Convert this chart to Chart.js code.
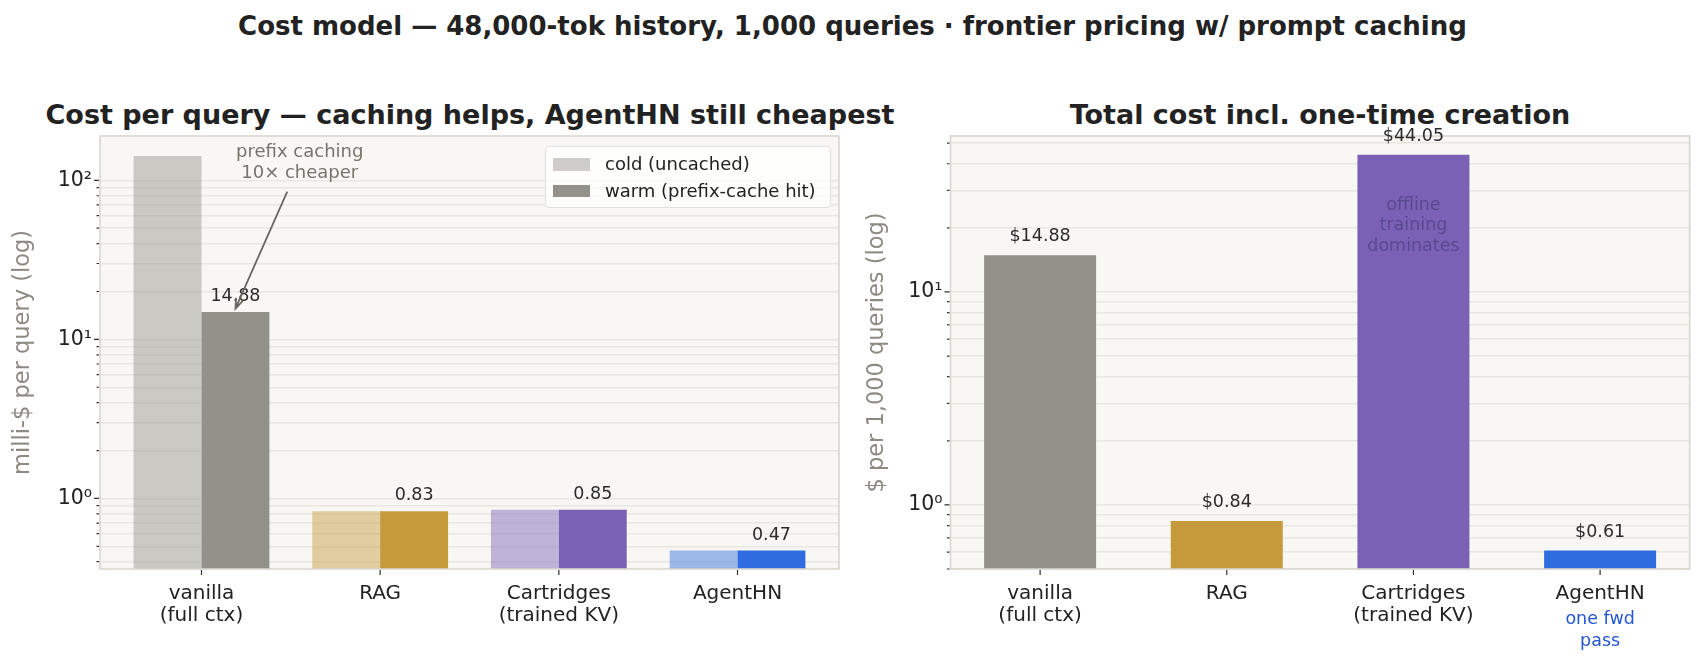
<!DOCTYPE html>
<html>
<head>
<meta charset="utf-8">
<title>Cost model</title>
<script src="https://cdn.jsdelivr.net/npm/chart.js@4/dist/chart.umd.min.js"></script>
<style>
  body { margin: 0; background: #fff; font-family: "DejaVu Sans", sans-serif; }
  #fig { position: relative; width: 1705px; height: 665px; overflow: hidden; }
  .suptitle { position: absolute; left: 0; top: 10px; width: 1705px; text-align: center;
              font-size: 26px; font-weight: bold; color: #222; line-height: 32px; white-space: nowrap; }
  .ptitle { position: absolute; top: 98px; width: 1200px; text-align: center;
            font-size: 27px; font-weight: bold; color: #222; line-height: 34px; white-space: nowrap; }
  .panel { position: absolute; top: 0; height: 665px; }
  .legend { position: absolute; left: 545px; top: 146px; width: 284px; height: 60px;
            background: rgba(255,255,255,0.8); border: 1px solid #e2e0da; border-radius: 4px;
            font-size: 18px; color: #222; }
  .legend .row { position: absolute; left: 0; height: 26px; }
  .legend .sw { position: absolute; left: 7px; top: 7px; width: 37px; height: 12.5px; }
  .legend .tx { position: absolute; left: 59px; top: 0; line-height: 26px; white-space: nowrap; }
</style>
</head>
<body>
<div id="fig">
  <div class="suptitle">Cost model — 48,000-tok history, 1,000 queries · frontier pricing w/ prompt caching</div>
  <div class="ptitle" style="left:-130px">Cost per query — caching helps, AgentHN still cheapest</div>
  <div class="ptitle" style="left:720px">Total cost incl. one-time creation</div>
  <div class="panel" style="left:0; width:860px"><canvas id="perQuery" width="860" height="665"></canvas></div>
  <div class="panel" style="left:860px; width:845px"><canvas id="total" width="845" height="665"></canvas></div>
  <div class="legend" id="legend"></div>
</div>

<script>
// ---------------------------------------
// DATA
// ---------------------------------------
const categories = [["vanilla", "(full ctx)"], "RAG", ["Cartridges", "(trained KV)"], "AgentHN"];
const coldPerQuery = [142, 0.83, 0.85, 0.47];      // milli-$ per query, no cache
const warmPerQuery = [14.88, 0.83, 0.85, 0.47];    // milli-$ per query, prefix-cache hit
const totalPer1k = [14.88, 0.84, 44.05, 0.61];     // $ per 1,000 queries incl. creation
const warmLabels = ["14.88", "0.83", "0.85", "0.47"];
const totalLabels = ["$14.88", "$0.84", "$44.05", "$0.61"];
const seriesNames = ["cold (uncached)", "warm (prefix-cache hit)"];
const logTickLabels = { 1: "10⁰", 10: "10¹", 100: "10²" };

const barColors = ["#94918a", "#c69a3a", "#7b61b6", "#2f6ce0"];
const COLD_ALPHA = 0.45;
const FONT = "DejaVu Sans";

// ---------------------------------------
// HELPERS
// ---------------------------------------
function withAlpha(hex, a) {
    const n = parseInt(hex.slice(1), 16);
    return `rgba(${n >> 16},${(n >> 8) & 255},${n & 255},${a})`;
}

// ticks at 1..9 x 10^n like matplotlib's log locator
function logTicks(scale) {
    const out = [];
    const lo = Math.floor(Math.log10(scale.min));
    const hi = Math.ceil(Math.log10(scale.max));
    for (let e = lo; e <= hi; e++) {
        for (let d = 1; d <= 9; d++) {
            const v = parseFloat((d * Math.pow(10, e)).toPrecision(6));
            if (v >= scale.min && v <= scale.max) out.push({ value: v, major: d === 1 });
        }
    }
    scale.ticks = out;
}

function drawLines(ctx, lines, x, y, step) {
    lines.forEach((s, i) => ctx.fillText(s, x, y + i * step));
}

// plot background, frame and tick marks
const axesStyle = {
    id: "axesStyle",
    beforeDraw(chart) {
        const { ctx, chartArea: a } = chart;
        ctx.save();
        ctx.fillStyle = "#f8f7f3";
        ctx.fillRect(a.left, a.top, a.width, a.height);
        ctx.restore();
    },
    afterDatasetsDraw(chart) {
        const { ctx, chartArea: a, scales: { x, y } } = chart;
        ctx.save();
        ctx.strokeStyle = "#d9d6cd";
        ctx.lineWidth = 1.6;
        ctx.strokeRect(a.left, a.top, a.width, a.height);
        ctx.strokeStyle = "#333";
        ctx.lineWidth = 1.2;
        ctx.beginPath();
        y.ticks.forEach(t => {
            const py = y.getPixelForValue(t.value);
            const len = t.major ? 5 : 2.5;
            ctx.moveTo(a.left - 1 - len, py);
            ctx.lineTo(a.left - 1, py);
        });
        x.ticks.forEach(t => {
            const px = x.getPixelForValue(t.value);
            ctx.moveTo(px, a.bottom + 1);
            ctx.lineTo(px, a.bottom + 6);
        });
        ctx.stroke();
        ctx.restore();
    }
};

function scalesFor(xMin, xMax, yMin, yMax, yWidth, yTitle, titlePad) {
    return {
        x: {
            type: "linear", min: xMin, max: xMax, offset: false,
            grid: { display: false, drawTicks: true, tickLength: 5 },
            border: { display: false },
            afterBuildTicks: s => { s.ticks = categories.map((_, i) => ({ value: i })); },
            afterFit: s => { s.height = 96; },
            ticks: {
                autoSkip: false, maxRotation: 0, padding: 8, color: "#222",
                font: { family: FONT, size: 20, lineHeight: 1.13 },
                callback: v => categories[v]
            }
        },
        y: {
            type: "logarithmic", min: yMin, max: yMax,
            grid: { color: "#e9e7e1", lineWidth: 1.5, tickColor: "transparent", tickLength: 5 },
            border: { display: false },
            afterBuildTicks: logTicks,
            afterFit: s => { s.width = yWidth; },
            ticks: {
                autoSkip: false, padding: 3, color: "#222",
                font: { family: FONT, size: 20.5 },
                callback: v => logTickLabels[v] || ""
            },
            title: {
                display: true, text: yTitle, color: "#8d8a84",
                font: { family: FONT, size: 22.5 }, padding: { top: titlePad, bottom: 0 }
            }
        }
    };
}

// ---------------------------------------
// LEFT: COST PER QUERY
// ---------------------------------------
const perQueryLabels = {
    id: "perQueryLabels",
    afterDatasetsDraw(chart) {
        const { ctx, scales: { x, y } } = chart;
        const warm = chart.getDatasetMeta(1);
        ctx.save();
        ctx.textAlign = "center";
        ctx.textBaseline = "middle";
        ctx.font = `17.5px "${FONT}"`;
        ctx.fillStyle = "#2b2b2b";
        warmPerQuery.forEach((v, i) => {
            ctx.fillText(warmLabels[i], warm.data[i].x, y.getPixelForValue(v * 1.25));
        });

        // annotation: prefix caching 10x cheaper
        ctx.font = `18px "${FONT}"`;
        ctx.fillStyle = "#77746d";
        const tx = x.getPixelForValue(0.55);
        const ty = y.getPixelForValue(151);
        drawLines(ctx, ["prefix caching", "10× cheaper"], tx, ty, 21);

        const x0 = x.getPixelForValue(0.48), y0 = y.getPixelForValue(85);
        const x1 = x.getPixelForValue(0.19), y1 = y.getPixelForValue(15.6);
        const ang = Math.atan2(y1 - y0, x1 - x0);
        ctx.strokeStyle = "#6b6862";
        ctx.lineWidth = 1.8;
        ctx.beginPath();
        ctx.moveTo(x0, y0);
        ctx.lineTo(x1, y1);
        ctx.moveTo(x1 - 11 * Math.cos(ang - 0.35), y1 - 11 * Math.sin(ang - 0.35));
        ctx.lineTo(x1, y1);
        ctx.lineTo(x1 - 11 * Math.cos(ang + 0.35), y1 - 11 * Math.sin(ang + 0.35));
        ctx.stroke();
        ctx.restore();
    }
};

new Chart(document.getElementById("perQuery"), {
    type: "bar",
    data: {
        labels: categories.map((_, i) => i),
        datasets: [
            {
                label: seriesNames[0], data: coldPerQuery,
                backgroundColor: barColors.map(c => withAlpha(c, COLD_ALPHA)),
                categoryPercentage: 0.76, barPercentage: 1, borderWidth: 0
            },
            {
                label: seriesNames[1], data: warmPerQuery,
                backgroundColor: barColors,
                categoryPercentage: 0.76, barPercentage: 1, borderWidth: 0
            }
        ]
    },
    options: {
        responsive: false, animation: false, devicePixelRatio: 1,
        layout: { padding: { left: 0, right: 21, top: 136, bottom: 0 } },
        plugins: { legend: { display: false }, tooltip: { enabled: false } },
        scales: scalesFor(-0.568, 3.568, 0.36, 190, 100, "milli-$ per query (log)", 9.5)
    },
    plugins: [axesStyle, perQueryLabels]
});

// legend (html, inside the left axes)
const legendEl = document.getElementById("legend");
seriesNames.forEach((name, i) => {
    const row = document.createElement("div");
    row.className = "row";
    row.style.top = (4 + i * 26.6) + "px";
    const sw = i === 0 ? withAlpha(barColors[0], COLD_ALPHA) : barColors[0];
    row.innerHTML = `<span class="sw" style="background:${sw}"></span><span class="tx">${name}</span>`;
    legendEl.appendChild(row);
});

// ---------------------------------------
// RIGHT: TOTAL COST
// ---------------------------------------
const totalLabelsPlugin = {
    id: "totalLabels",
    afterDatasetsDraw(chart) {
        const { ctx, chartArea: a, scales: { x, y } } = chart;
        const meta = chart.getDatasetMeta(0);
        ctx.save();
        ctx.textAlign = "center";
        ctx.textBaseline = "middle";
        ctx.font = `17.5px "${FONT}"`;
        ctx.fillStyle = "#2b2b2b";
        totalPer1k.forEach((v, i) => {
            ctx.fillText(totalLabels[i], meta.data[i].x, y.getPixelForValue(v * 1.22));
        });

        // note inside the Cartridges bar
        ctx.font = `17.5px "${FONT}"`;
        ctx.fillStyle = "#59498f";
        drawLines(ctx, ["offline", "training", "dominates"], x.getPixelForValue(2), y.getPixelForValue(25.6), 20.8);

        // note under the AgentHN tick label
        ctx.fillStyle = "#2456d6";
        drawLines(ctx, ["one fwd", "pass"], x.getPixelForValue(3), a.bottom + 50.5, 22);
        ctx.restore();
    }
};

new Chart(document.getElementById("total"), {
    type: "bar",
    data: {
        labels: categories.map((_, i) => i),
        datasets: [{
            label: "total", data: totalPer1k, backgroundColor: barColors,
            categoryPercentage: 0.6, barPercentage: 1, borderWidth: 0
        }]
    },
    options: {
        responsive: false, animation: false, devicePixelRatio: 1,
        layout: { padding: { left: 0, right: 15.3, top: 136, bottom: 0 } },
        plugins: { legend: { display: false }, tooltip: { enabled: false } },
        scales: scalesFor(-0.48, 3.48, 0.5, 54, 90.5, "$ per 1,000 queries (log)", 4)
    },
    plugins: [axesStyle, totalLabelsPlugin]
});
</script>
</body>
</html>
